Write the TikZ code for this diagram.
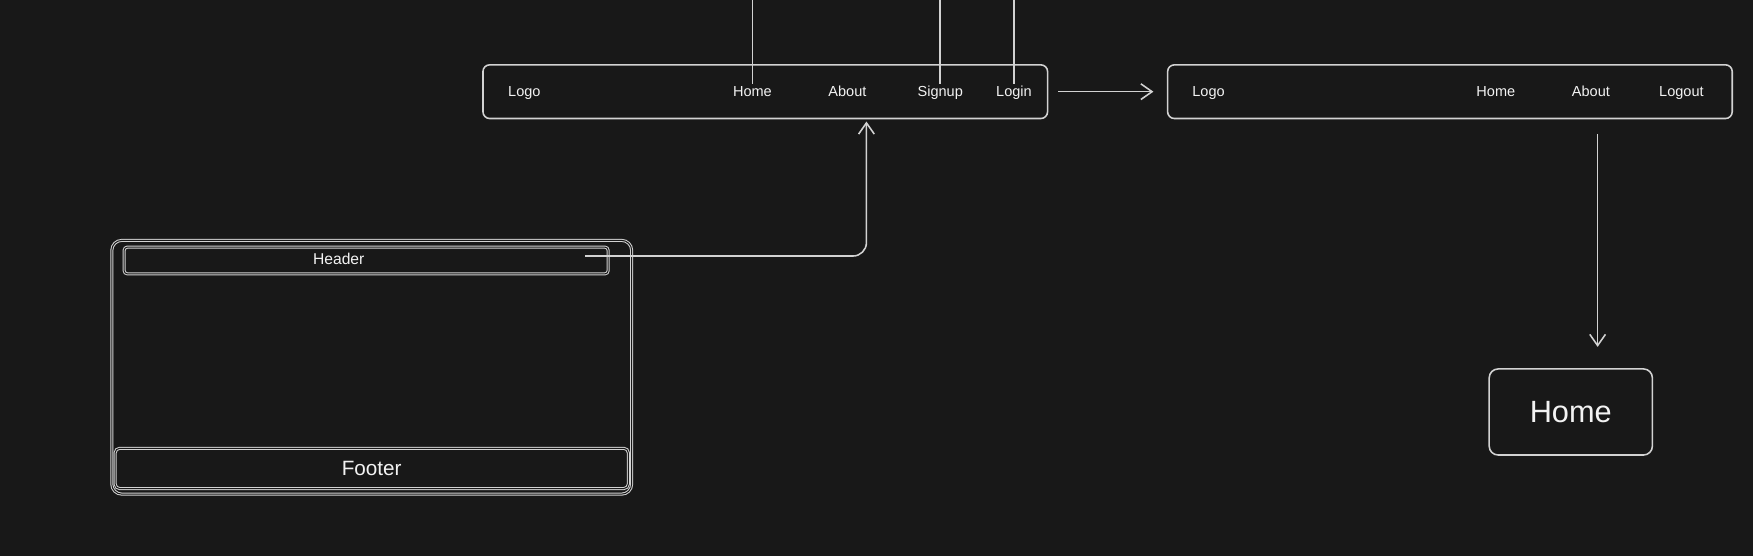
\documentclass[tikz,border=0pt]{standalone}
\usepackage{fontspec}
\setmainfont{Liberation Sans}
\usepackage{tikz}
\usetikzlibrary{arrows.meta, positioning, calc}
\definecolor{bg}{HTML}{181818}
\definecolor{ink}{HTML}{D2D2D2}
\definecolor{txt}{HTML}{F2F2F2}
\tikzstyle{navbar} = [rectangle, rounded corners=6pt, minimum width=505pt, minimum height=48pt, draw=ink, line width=1.4pt]
\tikzstyle{navtext} = [text=txt, font=\fontsize{13}{15}\selectfont, text height=9pt, text depth=2.5pt, inner sep=2pt]
\tikzstyle{sketch} = [rectangle, rounded corners=5pt, draw=ink, line width=0.9pt, double=bg, double distance=0.9pt, text=txt]
\tikzstyle{pagebox} = [sketch, minimum width=465pt, minimum height=227pt, rounded corners=9pt]
\tikzstyle{arrow} = [draw=ink, line width=1.4pt, -{Straight Barb[length=10pt, width=14pt]}]
\tikzstyle{wire} = [draw=ink, line width=1.4pt]

\begin{document}
\begin{tikzpicture}[x=1pt, y=1pt]
\useasboundingbox (0,0) rectangle (1568,-497);
\fill [bg] (0,0) rectangle (1568,-497);

% navbar before login
\node (nav1) [navbar] at (684.5,-82) {};
\node (logoA) [navtext] at (469,-83) {Logo};
\node (homeA) [navtext] at (673,-83) {Home};
\node (aboutA) [navtext] at (758,-83) {About};
\node (signupA) [navtext] at (841,-83) {Signup};
\node (loginA) [navtext] at (907,-83) {Login};

% navbar after login
\node (nav2) [navbar, right=106pt of nav1] {};
\node (logoB) [navtext] at (1081,-83) {Logo};
\node (homeB) [navtext] at (1338,-83) {Home};
\node (aboutB) [navtext] at (1423,-83) {About};
\node (logoutB) [navtext] at (1504,-83) {Logout};

% page layout
\node (page) [pagebox] at (332.5,-328.5) {};
\node (header) [sketch, minimum width=433pt, minimum height=24pt, rounded corners=3pt] at (327.5,-233) {};
\node (headertext) [navtext, font=\fontsize{14}{16}\selectfont] at (303,-233.5) {Header};
\node (footer) [sketch, minimum width=459pt, minimum height=36pt, rounded corners=4pt, font=\fontsize{18.5}{22}\selectfont] at (332.5,-419) {Footer};

% home page
\node (homepage) [navbar, minimum width=146pt, minimum height=77pt, rounded corners=8pt, text=txt, font=\fontsize{27.5}{32}\selectfont] at (1405,-368.5) {Home};

% links coming in from above
\coordinate (inH) at (673,0);
\coordinate (inS) at (841,0);
\coordinate (inL) at (907,0);
\draw [wire] (inH) -- (homeA.north);
\draw [wire] (inS) -- (signupA.north);
\draw [wire] (inL) -- (loginA.north);

\draw [arrow, shorten <=9pt, shorten >=12pt] (nav1.east) -- (nav2.west);
\draw [arrow] ($(aboutB |- nav2.south)+(6,-13)$) -- ($(aboutB |- homepage.north)+(6,19)$);
\draw [arrow, rounded corners=12pt] ($(header.east)+(-21,4)$) -| ($(nav1.south)+(90.5,-2)$);

\end{tikzpicture}
\end{document}
